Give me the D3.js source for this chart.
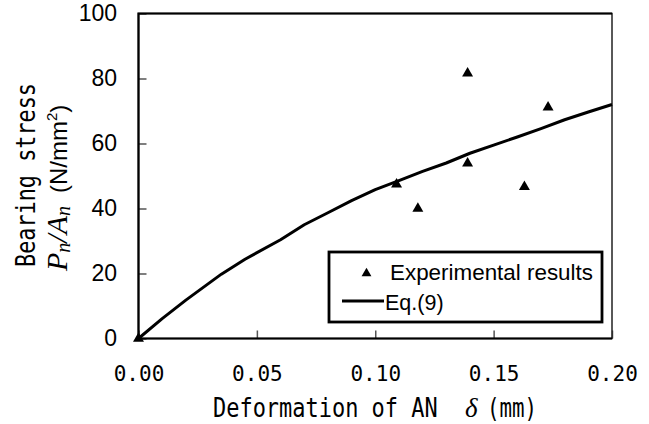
<!DOCTYPE html>
<html>
<head>
<meta charset="utf-8">
<script src="https://cdn.jsdelivr.net/npm/d3@7"></script>
<style>
  body { margin: 0; background: #fff; }
</style>
</head>
<body>
<svg id="chart" width="649" height="424"></svg>
<script>
// Eq.(9) curve
const eqDelta = [0, 0.01, 0.02, 0.035, 0.045, 0.06, 0.07, 0.08, 0.09, 0.10, 0.11, 0.12, 0.13, 0.14, 0.15, 0.16, 0.17, 0.18, 0.19, 0.20];
const eqStress = [0, 6.1, 11.8, 19.8, 24.4, 30.4, 35.0, 38.7, 42.4, 45.8, 48.6, 51.4, 54.0, 57.0, 59.5, 62.0, 64.6, 67.3, 69.7, 72.0];

// experimental results
const expDelta = [0, 0.109, 0.118, 0.139, 0.139, 0.163, 0.173];
const expStress = [0, 47.4, 40.0, 81.6, 53.9, 46.7, 71.1];

const xTicks = [0, 0.05, 0.10, 0.15, 0.20];
const yTicks = [0, 20, 40, 60, 80, 100];

const margin = { top: 13.5, right: 37, bottom: 85.5, left: 138.5 };
const width = 649 - margin.left - margin.right;
const height = 424 - margin.top - margin.bottom;

const mono = "'DejaVu Sans Mono', 'Liberation Mono', monospace";
const sans = "'Liberation Sans', Arial, sans-serif";
const serif = "'Liberation Serif', 'Times New Roman', serif";

const svg = d3.select("#chart");
const g = svg.append("g").attr("transform", `translate(${margin.left}, ${margin.top})`);

const x = d3.scaleLinear().domain([0, 0.2]).range([0, width]);
const y = d3.scaleLinear().domain([0, 100]).range([height, 0]);

// x axis
const xAxis = g.append("g")
  .attr("transform", `translate(0, ${height})`)
  .call(d3.axisBottom(x).tickValues(xTicks).tickSize(-8).tickPadding(28).tickFormat(d3.format(".2f")));
xAxis.select(".domain").remove();
xAxis.selectAll(".tick line").attr("stroke", "#555").attr("stroke-width", 1.5);
xAxis.selectAll(".tick text")
  .style("font-family", mono).style("font-size", "21px").attr("fill", "#000");

// y axis
const yAxis = g.append("g")
  .call(d3.axisLeft(y).tickValues(yTicks).tickSize(-8).tickPadding(21.5));
yAxis.select(".domain").remove();
yAxis.selectAll(".tick line").attr("stroke", "#555").attr("stroke-width", 1.5);
yAxis.selectAll(".tick text")
  .style("font-family", sans).style("font-size", "23px").attr("fill", "#000");

// frame
g.append("rect")
  .attr("width", width).attr("height", height)
  .attr("fill", "none").attr("stroke", "#222").attr("stroke-width", 1.5);
g.append("path")
  .attr("d", `M${width},0H0V${height}H${width}`)
  .attr("fill", "none").attr("stroke", "#000").attr("stroke-width", 2.2);

// Eq.(9) line
const line = d3.line().x((d, i) => x(eqDelta[i])).y((d) => y(d));
g.append("path")
  .datum(eqStress)
  .attr("fill", "none")
  .attr("stroke", "#000")
  .attr("stroke-width", 3)
  .attr("stroke-linejoin", "round")
  .attr("d", line);

// experimental points
const tri = d3.symbol().type(d3.symbolTriangle).size(52);
g.selectAll(".pt")
  .data(expStress)
  .enter()
  .append("path")
  .attr("class", "pt")
  .attr("d", tri)
  .attr("transform", (d, i) => `translate(${x(expDelta[i])}, ${y(d)})`)
  .attr("fill", "#000");

// legend
const legend = svg.append("g");
legend.append("rect")
  .attr("x", 329).attr("y", 252).attr("width", 273).attr("height", 70)
  .attr("fill", "#fff").attr("stroke", "#000").attr("stroke-width", 2.8);
legend.append("path")
  .attr("d", d3.symbol().type(d3.symbolTriangle).size(42))
  .attr("transform", "translate(366.5, 273.5)")
  .attr("fill", "#000");
legend.append("text")
  .attr("x", 390).attr("y", 280)
  .style("font-family", sans).style("font-size", "21.5px")
  .attr("textLength", 203).attr("lengthAdjust", "spacingAndGlyphs")
  .text("Experimental results");
legend.append("line")
  .attr("x1", 342).attr("x2", 384).attr("y1", 301).attr("y2", 301)
  .attr("stroke", "#000").attr("stroke-width", 3);
legend.append("text")
  .attr("x", 385).attr("y", 309.5)
  .style("font-family", sans).style("font-size", "21.5px")
  .text("Eq.(9)");

// x axis title (narrow gothic look: squeeze mono text horizontally)
svg.append("text")
  .attr("transform", "translate(213, 417) scale(0.845, 1)")
  .style("font-family", mono).style("font-size", "26px")
  .text("Deformation of AN");
svg.append("text")
  .attr("x", 465).attr("y", 417)
  .style("font-family", serif).style("font-style", "italic").style("font-size", "27px")
  .text("δ");
svg.append("text")
  .attr("transform", "translate(487, 417) scale(0.8, 1)")
  .style("font-family", mono).style("font-size", "26px")
  .text("(mm)");

// y axis title
const yt = svg.append("g").attr("transform", "rotate(-90)");
yt.append("text")
  .attr("transform", "translate(-175, 35) scale(0.84, 1)")
  .attr("text-anchor", "middle")
  .style("font-family", mono).style("font-size", "26px")
  .text("Bearing stress");
const yt2 = yt.append("text")
  .attr("x", -271).attr("y", 67);
yt2.append("tspan").style("font-family", serif).style("font-style", "italic").style("font-size", "30px").text("P");
yt2.append("tspan").style("font-family", serif).style("font-style", "italic").style("font-size", "20px").attr("dy", 3).text("n");
yt2.append("tspan").style("font-family", serif).style("font-style", "italic").style("font-size", "30px").attr("dy", -3).text("/A");
yt2.append("tspan").style("font-family", serif).style("font-style", "italic").style("font-size", "20px").attr("dy", 3).text("n");
yt2.append("tspan").style("font-family", sans).style("font-size", "24px").attr("dy", -3).attr("dx", 13).text("(N/mm");
yt2.append("tspan").style("font-family", sans).style("font-size", "15px").attr("dy", -10).text("2");
yt2.append("tspan").style("font-family", sans).style("font-size", "24px").attr("dy", 10).text(")");
</script>
</body>
</html>
